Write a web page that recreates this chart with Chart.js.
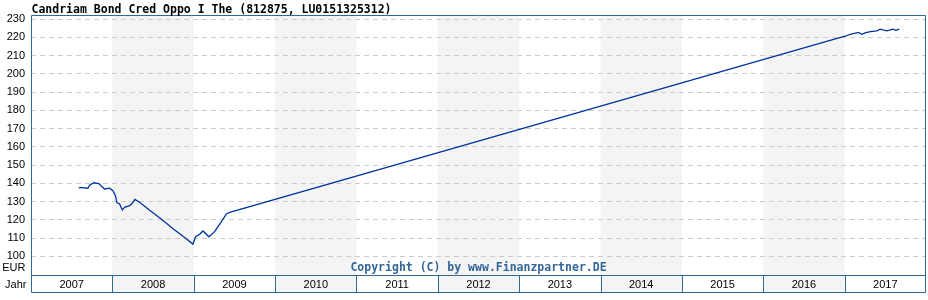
<!DOCTYPE html>
<html>
<head>
<meta charset="utf-8">
<script src="https://cdn.jsdelivr.net/npm/chart.js@4/dist/chart.umd.min.js"></script>
<style>
  body { margin: 0; background: #fff; }
  canvas { display: block; }
</style>
</head>
<body>
<canvas id="fund-chart" width="928" height="300"></canvas>
<script>
/*---------- Data ----------------*/
const chartTitle = "Candriam Bond Cred Oppo I The (812875, LU0151325312)";
const copyright = "Copyright (C) by www.Finanzpartner.DE";

const years = [2007, 2008, 2009, 2010, 2011, 2012, 2013, 2014, 2015, 2016, 2017];
const shadedYears = [2008, 2010, 2012, 2014, 2016];
const yTicks = [100, 110, 120, 130, 140, 150, 160, 170, 180, 190, 200, 210, 220, 230];

// dates as decimal years, prices in EUR
const dates = [
  2007.588, 2007.605, 2007.699, 2007.720, 2007.772, 2007.834, 2007.863, 2007.904,
  2007.966, 2008.006, 2008.039, 2008.055, 2008.089, 2008.122, 2008.150, 2008.212,
  2008.245, 2008.277, 2008.335, 2008.450, 2008.600, 2008.750, 2008.900, 2008.990,
  2009.023, 2009.073, 2009.113, 2009.187, 2009.257, 2009.298, 2009.339, 2009.401,
  2009.442, 2017.015, 2017.068, 2017.170, 2017.212, 2017.252, 2017.314, 2017.396,
  2017.437, 2017.518, 2017.593, 2017.630, 2017.672
];
const prices = [
  137.3, 137.8, 137.3, 138.9, 140.3, 139.8, 138.5, 136.9,
  137.3, 135.9, 133.0, 129.4, 128.7, 125.4, 126.8, 127.7,
  129.0, 131.2, 129.6, 125.5, 120.4, 115.0, 109.9, 106.7,
  110.7, 112.1, 113.9, 110.7, 113.5, 116.2, 118.9, 123.2,
  124.1, 220.7, 221.6, 222.7, 221.6, 222.4, 223.1, 223.5,
  224.4, 223.5, 224.4, 223.8, 224.4
];

/*---------- Colours and fonts ----------------*/
const axisColor = "#336699";
const lineColor = "#003399";
const bandColor = "#f4f4f4";
const labelFont = "11px 'Liberation Sans', Arial, sans-serif";
const monoFont = "bold 11.5px 'DejaVu Sans Mono', monospace";

// grey bands behind the plot for every other year
const bandsPlugin = {
  id: "bands",
  beforeDraw(chart) {
    const { ctx, chartArea, scales } = chart;
    ctx.save();
    ctx.fillStyle = bandColor;
    shadedYears.forEach((yr) => {
      const x1 = scales.x.getPixelForValue(yr);
      const x2 = scales.x.getPixelForValue(yr + 1);
      ctx.fillRect(x1, chartArea.top, x2 - x1, chartArea.bottom - chartArea.top);
    });
    ctx.restore();
  },
};

// frame, year row, title and copyright
const framePlugin = {
  id: "frame",
  afterDraw(chart) {
    const { ctx, chartArea, scales } = chart;
    const left = Math.round(chartArea.left) + 0.5;
    const right = Math.round(chartArea.right) - 0.5;
    const top = Math.round(chartArea.top) + 0.5;
    const bottom = Math.round(chartArea.bottom) + 0.5;
    const rowBottom = bottom + 17;
    ctx.save();

    // year row cells
    years.forEach((yr) => {
      const x1 = scales.x.getPixelForValue(yr);
      const x2 = scales.x.getPixelForValue(yr + 1);
      ctx.fillStyle = shadedYears.includes(yr) ? bandColor : "#fff";
      ctx.fillRect(x1, bottom, x2 - x1, 17);
      ctx.fillStyle = "#000";
      ctx.font = labelFont;
      ctx.textAlign = "center";
      ctx.textBaseline = "middle";
      ctx.fillText(String(yr), (x1 + x2) / 2, bottom + 9);
    });

    ctx.strokeStyle = axisColor;
    ctx.lineWidth = 1;
    ctx.beginPath();
    ctx.moveTo(left, top); ctx.lineTo(right, top);
    ctx.moveTo(left, top); ctx.lineTo(left, rowBottom);
    ctx.moveTo(right, top); ctx.lineTo(right, rowBottom);
    ctx.moveTo(left, bottom); ctx.lineTo(right, bottom);
    ctx.moveTo(left, rowBottom); ctx.lineTo(right, rowBottom);
    years.slice(1).forEach((yr) => {
      const x = Math.round(scales.x.getPixelForValue(yr)) + 0.5;
      ctx.moveTo(x, bottom); ctx.lineTo(x, rowBottom);
    });
    ctx.stroke();

    // side labels
    ctx.fillStyle = "#000";
    ctx.font = labelFont;
    ctx.textAlign = "right";
    ctx.textBaseline = "middle";
    ctx.fillText("EUR", left - 6, 268);
    ctx.fillText("Jahr", left - 5, bottom + 9);

    // title
    ctx.font = monoFont;
    ctx.textAlign = "left";
    ctx.textBaseline = "alphabetic";
    ctx.fillText(chartTitle, left, 12.5);

    // copyright
    ctx.fillStyle = axisColor;
    ctx.textAlign = "center";
    ctx.textBaseline = "middle";
    ctx.fillText(copyright, (left + right) / 2, 268);
    ctx.restore();
  },
};

/*-----------Code to create line chart---------------*/
const fundChart = new Chart(document.getElementById("fund-chart"), {
  type: "line",
  data: {
    datasets: [
      {
        data: dates.map((d, i) => ({ x: d, y: prices[i] })),
        borderColor: lineColor,
        borderWidth: 1.3,
        pointRadius: 0,
        tension: 0,
        fill: false,
      },
    ],
  },
  options: {
    responsive: false,
    animation: false,
    devicePixelRatio: 1,
    layout: { padding: { top: 15, right: 2, bottom: 25, left: 0 } },
    plugins: { legend: { display: false }, tooltip: { enabled: false } },
    scales: {
      x: { type: "linear", min: 2007, max: 2018, display: false },
      y: {
        min: 89.75,
        max: 232.2,
        afterBuildTicks: (axis) => {
          axis.ticks = yTicks.map((v) => ({ value: v }));
        },
        afterFit: (axis) => {
          axis.width = 31;
        },
        ticks: {
          color: "#000",
          padding: 6,
          font: { family: "'Liberation Sans', Arial, sans-serif", size: 11 },
        },
        grid: { color: "#cccccc", drawTicks: false, lineWidth: 1 },
        border: { display: false, dash: [5, 4] },
      },
    },
  },
  plugins: [bandsPlugin, framePlugin],
});
</script>
</body>
</html>
